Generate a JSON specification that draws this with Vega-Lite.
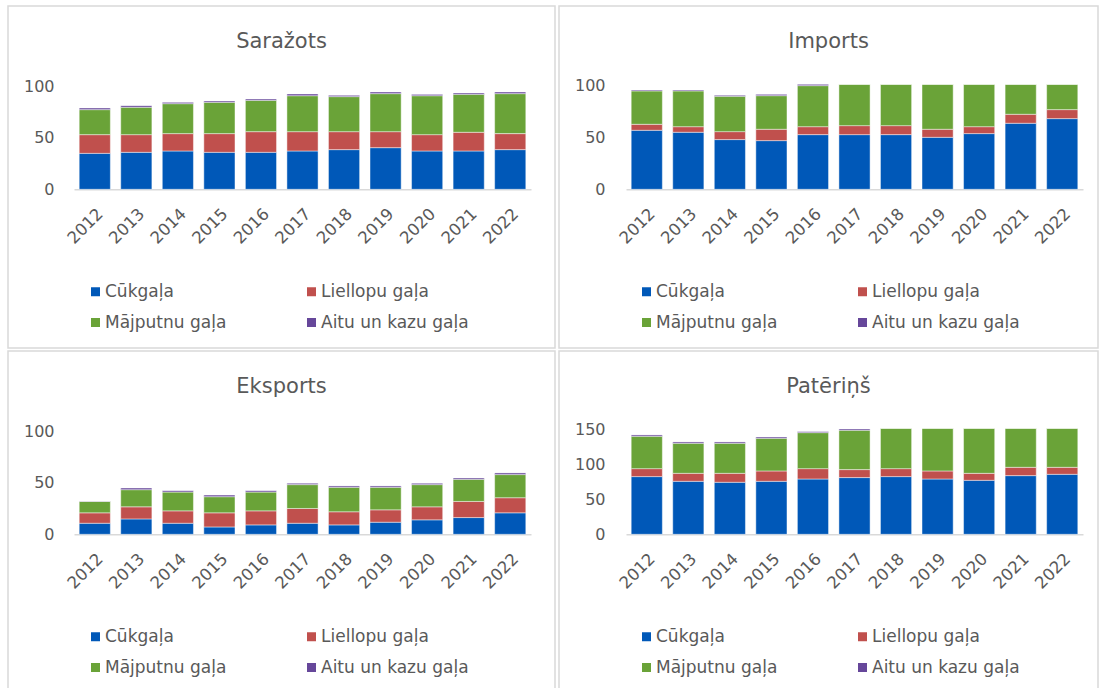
{
  "$schema": "https://vega.github.io/schema/vega-lite/v6.json",
  "padding": {"left": 7, "top": 5, "right": 0, "bottom": 0},
  "background": "#ffffff",
  "bounds": "flush",
  "columns": 2,
  "spacing": {"row": 3, "column": 4},
  "datasets": {
    "meat": [
      {"p": "Saražots", "year": "2012", "Cūkgaļa": 34.8, "Liellopu gaļa": 18.1, "Mājputnu gaļa": 24.2, "Aitu un kazu gaļa": 1.6},
      {"p": "Saražots", "year": "2013", "Cūkgaļa": 35.8, "Liellopu gaļa": 17.1, "Mājputnu gaļa": 26.5, "Aitu un kazu gaļa": 1.6},
      {"p": "Saražots", "year": "2014", "Cūkgaļa": 37.1, "Liellopu gaļa": 16.8, "Mājputnu gaļa": 29.0, "Aitu un kazu gaļa": 1.3},
      {"p": "Saražots", "year": "2015", "Cūkgaļa": 35.8, "Liellopu gaļa": 18.1, "Mājputnu gaļa": 30.3, "Aitu un kazu gaļa": 1.3},
      {"p": "Saražots", "year": "2016", "Cūkgaļa": 35.8, "Liellopu gaļa": 20.0, "Mājputnu gaļa": 30.3, "Aitu un kazu gaļa": 1.3},
      {"p": "Saražots", "year": "2017", "Cūkgaļa": 37.1, "Liellopu gaļa": 18.7, "Mājputnu gaļa": 34.8, "Aitu un kazu gaļa": 1.7},
      {"p": "Saražots", "year": "2018", "Cūkgaļa": 38.4, "Liellopu gaļa": 17.4, "Mājputnu gaļa": 33.9, "Aitu un kazu gaļa": 1.3},
      {"p": "Saražots", "year": "2019", "Cūkgaļa": 40.3, "Liellopu gaļa": 15.5, "Mājputnu gaļa": 36.8, "Aitu un kazu gaļa": 1.6},
      {"p": "Saražots", "year": "2020", "Cūkgaļa": 37.1, "Liellopu gaļa": 15.8, "Mājputnu gaļa": 37.7, "Aitu un kazu gaļa": 1.3},
      {"p": "Saražots", "year": "2021", "Cūkgaļa": 37.1, "Liellopu gaļa": 18.1, "Mājputnu gaļa": 36.7, "Aitu un kazu gaļa": 1.3},
      {"p": "Saražots", "year": "2022", "Cūkgaļa": 38.4, "Liellopu gaļa": 15.5, "Mājputnu gaļa": 38.7, "Aitu un kazu gaļa": 1.6},
      {"p": "Imports", "year": "2012", "Cūkgaļa": 57.1, "Liellopu gaļa": 5.8, "Mājputnu gaļa": 32.3, "Aitu un kazu gaļa": 0.9},
      {"p": "Imports", "year": "2013", "Cūkgaļa": 55.2, "Liellopu gaļa": 5.4, "Mājputnu gaļa": 34.6, "Aitu un kazu gaļa": 0.9},
      {"p": "Imports", "year": "2014", "Cūkgaļa": 48.1, "Liellopu gaļa": 7.7, "Mājputnu gaļa": 34.2, "Aitu un kazu gaļa": 1.0},
      {"p": "Imports", "year": "2015", "Cūkgaļa": 47.1, "Liellopu gaļa": 11.0, "Mājputnu gaļa": 32.5, "Aitu un kazu gaļa": 1.3},
      {"p": "Imports", "year": "2016", "Cūkgaļa": 52.9, "Liellopu gaļa": 7.7, "Mājputnu gaļa": 39.7, "Aitu un kazu gaļa": 1.3},
      {"p": "Imports", "year": "2017", "Cūkgaļa": 52.9, "Liellopu gaļa": 8.7, "Mājputnu gaļa": 40.0, "Aitu un kazu gaļa": 1.0},
      {"p": "Imports", "year": "2018", "Cūkgaļa": 52.9, "Liellopu gaļa": 8.7, "Mājputnu gaļa": 40.0, "Aitu un kazu gaļa": 1.0},
      {"p": "Imports", "year": "2019", "Cūkgaļa": 50.3, "Liellopu gaļa": 7.8, "Mājputnu gaļa": 43.5, "Aitu un kazu gaļa": 1.0},
      {"p": "Imports", "year": "2020", "Cūkgaļa": 53.9, "Liellopu gaļa": 6.7, "Mājputnu gaļa": 41.0, "Aitu un kazu gaļa": 1.0},
      {"p": "Imports", "year": "2021", "Cūkgaļa": 63.9, "Liellopu gaļa": 8.7, "Mājputnu gaļa": 29.0, "Aitu un kazu gaļa": 1.0},
      {"p": "Imports", "year": "2022", "Cūkgaļa": 68.4, "Liellopu gaļa": 8.7, "Mājputnu gaļa": 24.5, "Aitu un kazu gaļa": 1.0},
      {"p": "Eksports", "year": "2012", "Cūkgaļa": 10.7, "Liellopu gaļa": 10.1, "Mājputnu gaļa": 11.0, "Aitu un kazu gaļa": 0.3},
      {"p": "Eksports", "year": "2013", "Cūkgaļa": 14.9, "Liellopu gaļa": 11.7, "Mājputnu gaļa": 16.6, "Aitu un kazu gaļa": 1.6},
      {"p": "Eksports", "year": "2014", "Cūkgaļa": 10.7, "Liellopu gaļa": 12.0, "Mājputnu gaļa": 18.2, "Aitu un kazu gaļa": 1.3},
      {"p": "Eksports", "year": "2015", "Cūkgaļa": 7.1, "Liellopu gaļa": 13.7, "Mājputnu gaļa": 15.6, "Aitu un kazu gaļa": 1.6},
      {"p": "Eksports", "year": "2016", "Cūkgaļa": 9.1, "Liellopu gaļa": 13.6, "Mājputnu gaļa": 18.2, "Aitu un kazu gaļa": 1.3},
      {"p": "Eksports", "year": "2017", "Cūkgaļa": 10.7, "Liellopu gaļa": 14.3, "Mājputnu gaļa": 23.1, "Aitu un kazu gaļa": 1.3},
      {"p": "Eksports", "year": "2018", "Cūkgaļa": 9.1, "Liellopu gaļa": 12.7, "Mājputnu gaļa": 23.7, "Aitu un kazu gaļa": 1.3},
      {"p": "Eksports", "year": "2019", "Cūkgaļa": 11.7, "Liellopu gaļa": 12.0, "Mājputnu gaļa": 21.8, "Aitu un kazu gaļa": 1.3},
      {"p": "Eksports", "year": "2020", "Cūkgaļa": 14.0, "Liellopu gaļa": 12.6, "Mājputnu gaļa": 21.5, "Aitu un kazu gaļa": 1.3},
      {"p": "Eksports", "year": "2021", "Cūkgaļa": 16.2, "Liellopu gaļa": 15.6, "Mājputnu gaļa": 21.4, "Aitu un kazu gaļa": 1.3},
      {"p": "Eksports", "year": "2022", "Cūkgaļa": 20.8, "Liellopu gaļa": 14.6, "Mājputnu gaļa": 22.4, "Aitu un kazu gaļa": 1.6},
      {"p": "Patēriņš", "year": "2012", "Cūkgaļa": 82.4, "Liellopu gaļa": 11.4, "Mājputnu gaļa": 46.2, "Aitu un kazu gaļa": 1.9},
      {"p": "Patēriņš", "year": "2013", "Cūkgaļa": 75.7, "Liellopu gaļa": 11.4, "Mājputnu gaļa": 42.9, "Aitu un kazu gaļa": 1.9},
      {"p": "Patēriņš", "year": "2014", "Cūkgaļa": 74.3, "Liellopu gaļa": 12.8, "Mājputnu gaļa": 42.9, "Aitu un kazu gaļa": 1.9},
      {"p": "Patēriņš", "year": "2015", "Cūkgaļa": 75.7, "Liellopu gaļa": 14.8, "Mājputnu gaļa": 46.6, "Aitu un kazu gaļa": 1.9},
      {"p": "Patēriņš", "year": "2016", "Cūkgaļa": 79.0, "Liellopu gaļa": 14.8, "Mājputnu gaļa": 51.4, "Aitu un kazu gaļa": 1.5},
      {"p": "Patēriņš", "year": "2017", "Cūkgaļa": 81.0, "Liellopu gaļa": 11.4, "Mājputnu gaļa": 56.2, "Aitu un kazu gaļa": 1.9},
      {"p": "Patēriņš", "year": "2018", "Cūkgaļa": 82.4, "Liellopu gaļa": 11.4, "Mājputnu gaļa": 57.6, "Aitu un kazu gaļa": 1.0},
      {"p": "Patēriņš", "year": "2019", "Cūkgaļa": 79.0, "Liellopu gaļa": 11.5, "Mājputnu gaļa": 60.9, "Aitu un kazu gaļa": 1.0},
      {"p": "Patēriņš", "year": "2020", "Cūkgaļa": 77.1, "Liellopu gaļa": 10.0, "Mājputnu gaļa": 64.3, "Aitu un kazu gaļa": 1.0},
      {"p": "Patēriņš", "year": "2021", "Cūkgaļa": 83.8, "Liellopu gaļa": 11.9, "Mājputnu gaļa": 55.7, "Aitu un kazu gaļa": 1.0},
      {"p": "Patēriņš", "year": "2022", "Cūkgaļa": 85.7, "Liellopu gaļa": 10.0, "Mājputnu gaļa": 55.7, "Aitu un kazu gaļa": 1.0}
    ]
  },
  "data": {"name": "meat"},
  "resolve": {"legend": {"color": "independent"}},
  "concat": [
    {
      "width": 547, "height": 342,
      "title": {"text": "Saražots", "offset": -63, "frame": "group", "anchor": "middle", "baseline": "alphabetic"},
      "transform": [
        {"filter": "datum.p === 'Saražots'"},
        {"fold": ["Cūkgaļa", "Liellopu gaļa", "Mājputnu gaļa", "Aitu un kazu gaļa"], "as": ["k", "v"]},
        {"window": [{"op": "row_number", "as": "o"}], "groupby": ["year"]}
      ],
      "mark": {"type": "bar", "stroke": "#ffffff", "strokeWidth": 1, "strokeOpacity": 0.45},
      "encoding": {
        "x": {"field": "year", "type": "ordinal", "scale": {"range": [66, 523], "paddingInner": 0.25, "paddingOuter": 0.125}, "axis": {"offset": -158.7}},
        "y": {"field": "v", "type": "quantitative", "stack": "zero", "scale": {"domain": [0, 100], "range": [183.3, 80], "nice": false, "clamp": true}, "axis": {"values": [0, 50, 100], "offset": -54}},
        "order": {"field": "o", "type": "quantitative", "sort": "ascending"},
        "color": {"field": "k", "type": "nominal", "scale": {"domain": ["Cūkgaļa", "Liellopu gaļa", "Mājputnu gaļa", "Aitu un kazu gaļa"], "range": ["#0058b8", "#c0504d", "#6aa338", "#66479a"]}, "legend": {"legendX": 79, "legendY": 277}}
      }
    },
    {
      "width": 539, "height": 342,
      "title": {"text": "Imports", "offset": -63, "frame": "group", "anchor": "middle", "baseline": "alphabetic"},
      "transform": [
        {"filter": "datum.p === 'Imports'"},
        {"fold": ["Cūkgaļa", "Liellopu gaļa", "Mājputnu gaļa", "Aitu un kazu gaļa"], "as": ["k", "v"]},
        {"window": [{"op": "row_number", "as": "o"}], "groupby": ["year"]}
      ],
      "mark": {"type": "bar", "stroke": "#ffffff", "strokeWidth": 1, "strokeOpacity": 0.45},
      "encoding": {
        "x": {"field": "year", "type": "ordinal", "scale": {"range": [67, 524], "paddingInner": 0.25, "paddingOuter": 0.125}, "axis": {"offset": -158.7}},
        "y": {"field": "v", "type": "quantitative", "stack": "zero", "scale": {"domain": [0, 101.6], "range": [183.3, 78.3], "nice": false, "clamp": true}, "axis": {"values": [0, 50, 100], "offset": -54}},
        "order": {"field": "o", "type": "quantitative", "sort": "ascending"},
        "color": {"field": "k", "type": "nominal", "scale": {"domain": ["Cūkgaļa", "Liellopu gaļa", "Mājputnu gaļa", "Aitu un kazu gaļa"], "range": ["#0058b8", "#c0504d", "#6aa338", "#66479a"]}, "legend": {"legendX": 79, "legendY": 277}}
      }
    },
    {
      "width": 547, "height": 342,
      "title": {"text": "Eksports", "offset": -63, "frame": "group", "anchor": "middle", "baseline": "alphabetic"},
      "transform": [
        {"filter": "datum.p === 'Eksports'"},
        {"fold": ["Cūkgaļa", "Liellopu gaļa", "Mājputnu gaļa", "Aitu un kazu gaļa"], "as": ["k", "v"]},
        {"window": [{"op": "row_number", "as": "o"}], "groupby": ["year"]}
      ],
      "mark": {"type": "bar", "stroke": "#ffffff", "strokeWidth": 1, "strokeOpacity": 0.45},
      "encoding": {
        "x": {"field": "year", "type": "ordinal", "scale": {"range": [66, 523], "paddingInner": 0.25, "paddingOuter": 0.125}, "axis": {"offset": -158.7}},
        "y": {"field": "v", "type": "quantitative", "stack": "zero", "scale": {"domain": [0, 100], "range": [183.3, 80], "nice": false, "clamp": true}, "axis": {"values": [0, 50, 100], "offset": -54}},
        "order": {"field": "o", "type": "quantitative", "sort": "ascending"},
        "color": {"field": "k", "type": "nominal", "scale": {"domain": ["Cūkgaļa", "Liellopu gaļa", "Mājputnu gaļa", "Aitu un kazu gaļa"], "range": ["#0058b8", "#c0504d", "#6aa338", "#66479a"]}, "legend": {"legendX": 79, "legendY": 277}}
      }
    },
    {
      "width": 539, "height": 342,
      "title": {"text": "Patēriņš", "offset": -63, "frame": "group", "anchor": "middle", "baseline": "alphabetic"},
      "transform": [
        {"filter": "datum.p === 'Patēriņš'"},
        {"fold": ["Cūkgaļa", "Liellopu gaļa", "Mājputnu gaļa", "Aitu un kazu gaļa"], "as": ["k", "v"]},
        {"window": [{"op": "row_number", "as": "o"}], "groupby": ["year"]}
      ],
      "mark": {"type": "bar", "stroke": "#ffffff", "strokeWidth": 1, "strokeOpacity": 0.45},
      "encoding": {
        "x": {"field": "year", "type": "ordinal", "scale": {"range": [67, 524], "paddingInner": 0.25, "paddingOuter": 0.125}, "axis": {"offset": -158.7}},
        "y": {"field": "v", "type": "quantitative", "stack": "zero", "scale": {"domain": [0, 151.4], "range": [183.3, 77.3], "nice": false, "clamp": true}, "axis": {"values": [0, 50, 100, 150], "offset": -54}},
        "order": {"field": "o", "type": "quantitative", "sort": "ascending"},
        "color": {"field": "k", "type": "nominal", "scale": {"domain": ["Cūkgaļa", "Liellopu gaļa", "Mājputnu gaļa", "Aitu un kazu gaļa"], "range": ["#0058b8", "#c0504d", "#6aa338", "#66479a"]}, "legend": {"legendX": 79, "legendY": 277}}
      }
    }
  ],
  "config": {
    "font": "DejaVu Sans",
    "view": {"stroke": "#d9d9d9", "strokeWidth": 1.5},
    "title": {"font": "DejaVu Sans", "fontSize": 21, "fontWeight": "normal", "color": "#595959"},
    "axis": {"title": null, "grid": false, "ticks": false, "tickSize": 0, "labelFont": "DejaVu Sans", "labelFontSize": 16, "labelColor": "#595959"},
    "axisX": {"labelAngle": -45, "labelPadding": 16, "labelDx": -3, "labelFontSize": 16.5, "domainColor": "#d9d9d9", "domainWidth": 1.5},
    "axisY": {"domain": false, "labelPadding": 8},
    "legend": {"orient": "none", "direction": "horizontal", "columns": 2, "title": null, "symbolType": "square", "symbolSize": 81, "symbolStrokeWidth": 0, "labelFont": "DejaVu Sans", "labelFontSize": 17, "labelColor": "#595959", "labelOffset": 1, "columnPadding": 76, "rowPadding": 13}
  }
}
